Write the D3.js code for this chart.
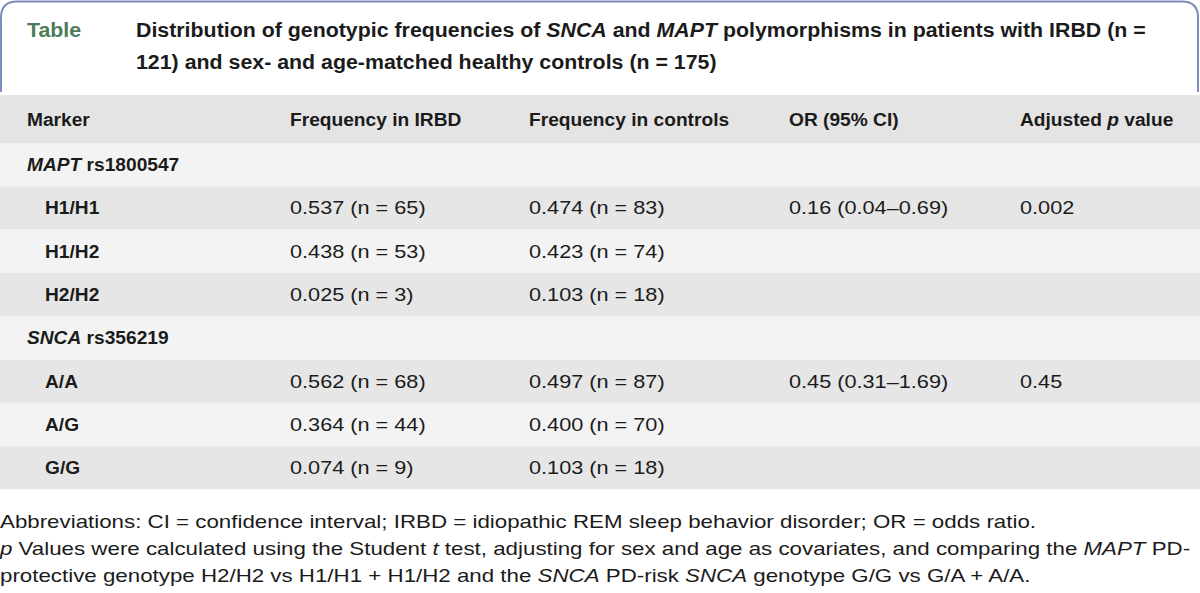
<!DOCTYPE html>
<html><head><meta charset="utf-8">
<script src="https://cdn.jsdelivr.net/npm/d3@7"></script>
<style>body{margin:0;background:#fff;} svg{display:block;}</style>
</head><body>
<svg id="c" width="1200" height="593"></svg>
<script>
// ---- data ----
const titleLabel = "Table";
const titleLines = [
  [["Distribution of genotypic frequencies of ",0],["SNCA",1],[" and ",0],["MAPT",1],[" polymorphisms in patients with IRBD (n =",0]],
  [["121) and sex- and age-matched healthy controls (n = 175)",0]]
];
const columns = [
  [["Marker",0]],
  [["Frequency in IRBD",0]],
  [["Frequency in controls",0]],
  [["OR (95% CI)",0]],
  [["Adjusted ",0],["p",1],[" value",0]]
];
const groups = [
  {label:[["MAPT",1],[" rs1800547",0]],
   genotypes:["H1/H1","H1/H2","H2/H2"],
   irbd:["0.537 (n = 65)","0.438 (n = 53)","0.025 (n = 3)"],
   controls:["0.474 (n = 83)","0.423 (n = 74)","0.103 (n = 18)"],
   or:["0.16 (0.04–0.69)","",""],
   p:["0.002","",""]},
  {label:[["SNCA",1],[" rs356219",0]],
   genotypes:["A/A","A/G","G/G"],
   irbd:["0.562 (n = 68)","0.364 (n = 44)","0.074 (n = 9)"],
   controls:["0.497 (n = 87)","0.400 (n = 70)","0.103 (n = 18)"],
   or:["0.45 (0.31–1.69)","",""],
   p:["0.45","",""]}
];
const footnotes = [
  [["Abbreviations: CI = confidence interval; IRBD = idiopathic REM sleep behavior disorder; OR = odds ratio.",0]],
  [["p",1],[" Values were calculated using the Student ",0],["t",1],[" test, adjusting for sex and age as covariates, and comparing the ",0],["MAPT",1],[" PD-",0]],
  [["protective genotype H2/H2 vs H1/H1 + H1/H2 and the ",0],["SNCA",1],[" PD-risk ",0],["SNCA",1],[" genotype G/G vs G/A + A/A.",0]]
];

// ---- build rows ----
const rows = [];
groups.forEach(g=>{
  rows.push({type:"group", cells:[g.label,[],[],[],[]]});
  g.genotypes.forEach((gt,i)=>{
    rows.push({type:"sub", cells:[[[gt,0]],[[g.irbd[i],0]],[[g.controls[i],0]],[[g.or[i],0]],[[g.p[i],0]]]});
  });
});

const svg = d3.select("#c");
const FONT = "'Liberation Sans', Arial, sans-serif";
const txtColor = "#1b1b1b";
const SX_REG = 1.24, SX_BOLD = 1.095;

function rich(parent, x, y, parts, size, bold, fill){
  const sx = bold ? SX_BOLD : SX_REG;
  const t = parent.append("text")
    .attr("transform",`translate(${x},${y}) scale(${sx},1)`)
    .attr("font-family",FONT).attr("font-size",size)
    .attr("font-weight",bold?"bold":"normal").attr("fill",fill||txtColor);
  parts.forEach(([s,it])=>{
    t.append("tspan").text(s).attr("font-style", it?"italic":"normal");
  });
  return t;
}

// title box border (open at bottom)
const bx0=1, bx1=1198, by0=1.5, bBot=92, r=16;
svg.append("path")
  .attr("d",`M${bx0},${bBot} V${by0+r} Q${bx0},${by0} ${bx0+r},${by0} H${bx1-r} Q${bx1},${by0} ${bx1},${by0+r} V${bBot}`)
  .attr("fill","none").attr("stroke","#7b8db8").attr("stroke-width",2);

rich(svg, 27, 37, [[titleLabel,0]], 19.5, true, "#4b7b57");
titleLines.forEach((ln,i)=> rich(svg, 136, 37+i*32, ln, 19.5, true));

// table
const colX = d3.scaleOrdinal().domain(d3.range(5)).range([27,290,529,789,1020]);
const headerTop = 95, headerH = 48, rowH = 43.3;
const y = d3.scaleBand().domain(d3.range(rows.length))
  .range([headerTop+headerH, headerTop+headerH+rowH*rows.length]);

svg.append("rect").attr("x",0).attr("y",headerTop).attr("width",1200).attr("height",headerH).attr("fill","#e4e4e4");
columns.forEach((c,i)=> rich(svg, colX(i), headerTop+headerH/2+6.5, c, 17.5, true));

const rg = svg.selectAll("g.row").data(rows).join("g").attr("class","row")
  .attr("transform",(d,i)=>`translate(0,${y(i)})`);
rg.append("rect").attr("x",0).attr("y",0).attr("width",1200).attr("height",y.bandwidth())
  .attr("fill",(d,i)=> i%2===0 ? "#f3f3f3" : "#e6e6e6");
rg.each(function(d){
  const g = d3.select(this);
  d.cells.forEach((c,ci)=>{
    if(!c.length || c.every(p=>p[0]==="")) return;
    const x = colX(ci) + (ci===0 && d.type==="sub" ? 18 : 0);
    rich(g, x, y.bandwidth()/2+6.5, c, 17.5, ci===0);
  });
});

footnotes.forEach((ln,i)=> rich(svg, 0, 528+i*27, ln, 18, false));
</script>
</body></html>
